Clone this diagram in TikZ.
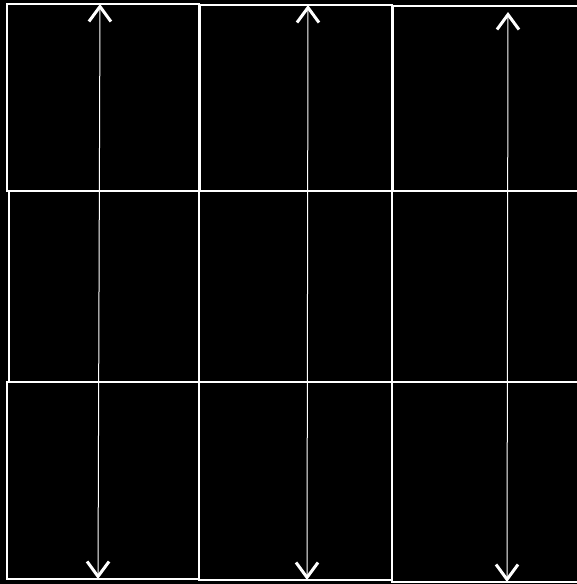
\documentclass[tikz,border=0pt]{standalone}
\usetikzlibrary{arrows.meta}

\begin{document}
\begin{tikzpicture}[
  x=1pt, y=-1pt,
  cell/.style={rectangle, draw=white, line width=2pt, inner sep=0pt, outer sep=0pt},
  span/.style={{Straight Barb[length=15pt, width=22pt, line width=3pt]}-{Straight Barb[length=15pt, width=22pt, line width=3pt]}, white, line width=1pt}
]
\useasboundingbox (0,0) rectangle (577,584);
\fill[black] (0,0) rectangle (577,584);
\clip (0,0) rectangle (577,584);

% top row
\node[cell, minimum width=192pt, minimum height=187pt] (c11) at (103,97.5) {};
\node[cell, minimum width=192pt, minimum height=186pt] (c12) at (296,98) {};
\node[cell, minimum width=192pt, minimum height=185pt] (c13) at (489,98.5) {};
% middle row
\node[cell, minimum width=190pt, minimum height=191pt] (c21) at (104,286.5) {};
\node[cell, minimum width=193pt, minimum height=191pt] (c22) at (295.5,286.5) {};
\node[cell, minimum width=192pt, minimum height=191pt] (c23) at (488,286.5) {};
% bottom row
\node[cell, minimum width=192pt, minimum height=197pt] (c31) at (103,480.5) {};
\node[cell, minimum width=193pt, minimum height=198pt] (c32) at (295.5,481) {};
\node[cell, minimum width=192pt, minimum height=200pt] (c33) at (488,482) {};

% arrow ends
\coordinate (t1) at (100,4);
\coordinate (b1) at (98,579);
\coordinate (t2) at (308,5);
\coordinate (b2) at (307,580);
\coordinate (t3) at (508,12);
\coordinate (b3) at (507,582);

\draw[span] (t1) -- (b1);
\draw[span] (t2) -- (b2);
\draw[span] (t3) -- (b3);
\end{tikzpicture}
\end{document}
